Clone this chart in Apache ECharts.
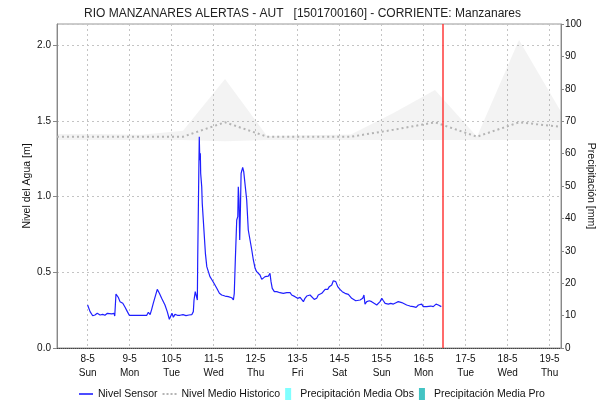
<!DOCTYPE html>
<html>
<head>
<meta charset="utf-8">
<script src="https://cdn.jsdelivr.net/npm/echarts@6/dist/echarts.min.js"></script>
<style>
  html, body { margin: 0; padding: 0; background: #fff; }
  #chart { width: 605px; height: 402px; }
</style>
</head>
<body>
<div id="chart"></div>
<script>
// Times are hours counted from 8 May 2022 00:00 (local time).
const BASE = new Date(2022, 4, 8, 0, 0, 0).getTime();
const HOUR = 3600 * 1000;

const windowStartHour = -17.5;   // 7-5 06:30
const windowEndHour = 270.5;     // 19-5 06:30
const nowHour = 202.7;           // vertical "now" marker

const dayNames = ['Sun', 'Mon', 'Tue', 'Wed', 'Thu', 'Fri', 'Sat'];

// Nivel Sensor [m]
const sensorHour = [
  0.0, 1.4, 2.9, 4.2, 5.5, 7.1, 8.6, 9.9, 11.3, 12.4, 13.8, 15.1, 15.5, 16.2, 17.5, 18.5, 20.1, 21.4, 22.7, 23.8,
  28.9, 33.8, 34.7, 35.7, 36.6, 37.5, 38.5, 39.8, 41.0, 42.3, 44.2, 45.5, 46.7, 47.5, 48.2, 49.0, 49.9, 51.3,
  52.8, 54.5, 56.2, 57.9, 59.5, 60.4, 60.8, 61.5, 62.3, 62.7, 62.9, 63.5, 63.8, 64.1, 64.4, 64.6, 65.2, 65.5,
  66.1, 66.7, 67.3, 68.1, 69.0, 69.9, 71.1, 72.2, 73.8, 75.3, 76.6, 78.5, 80.4, 82.3, 83.3, 83.8, 84.4, 85.2,
  85.8, 86.1, 86.5, 86.9, 87.3, 87.7, 88.1, 88.6, 89.2, 89.9, 90.9, 91.8, 92.8, 93.8, 94.7, 95.7, 96.6, 97.5,
  98.5, 99.5, 100.4, 101.4, 102.3, 103.3, 104.2, 104.8, 105.5, 106.7, 108.1, 109.9, 111.8, 112.8, 113.8, 114.7,
  115.7, 116.6, 117.5, 118.5, 120.0, 121.4, 122.3, 123.3, 124.2, 125.2, 126.1, 127.1, 128.1, 129.5, 130.9, 131.8,
  132.8, 133.8, 134.7, 135.7, 137.2, 138.1, 139.5, 140.4, 141.0, 141.8, 142.9, 144.2, 145.5, 147.1, 149.0, 149.9,
  150.9, 151.8, 153.2, 154.3, 155.7, 157.2, 157.9, 158.5, 159.5, 161.0, 162.3, 163.7, 165.2, 166.1, 167.1, 168.1,
  169.0, 170.0, 170.9, 171.8, 173.2, 174.7, 176.2, 177.5, 178.5, 179.5, 180.4, 182.3, 184.2, 186.1, 187.7, 189.0,
  190.0, 190.9, 191.8, 192.8, 193.8, 194.7, 196.1, 197.5, 199.1, 200.4, 201.4, 202.1
];
const sensorLevel = [
  0.284, 0.240, 0.213, 0.218, 0.229, 0.218, 0.222, 0.216, 0.229, 0.220, 0.225, 0.229, 0.211, 0.356, 0.335, 0.306, 0.295, 0.269, 0.240, 0.216,
  0.216, 0.216, 0.236, 0.220, 0.255, 0.295, 0.306, 0.387, 0.361, 0.328, 0.284, 0.240, 0.190, 0.196, 0.229, 0.203, 0.222, 0.216,
  0.216, 0.220, 0.214, 0.218, 0.220, 0.240, 0.317, 0.372, 0.361, 0.317, 0.580, 1.131, 1.395, 1.240, 1.285, 1.153, 1.065, 0.955,
  0.845, 0.735, 0.625, 0.537, 0.504, 0.471, 0.449, 0.427, 0.394, 0.361, 0.350, 0.343, 0.339, 0.332, 0.317, 0.361, 0.581, 0.845,
  0.867, 1.065, 0.977, 0.713, 0.911, 1.153, 1.170, 1.193, 1.164, 1.087, 0.977, 0.779, 0.713, 0.647, 0.581, 0.526, 0.504, 0.493,
  0.482, 0.453, 0.464, 0.471, 0.460, 0.475, 0.493, 0.438, 0.394, 0.372, 0.372, 0.365, 0.361, 0.365, 0.365, 0.358,
  0.365, 0.350, 0.339, 0.339, 0.328, 0.334, 0.321, 0.306, 0.328, 0.343, 0.354, 0.350, 0.339, 0.321, 0.328, 0.350,
  0.343, 0.361, 0.367, 0.387, 0.387, 0.405, 0.416, 0.444, 0.453, 0.438, 0.405, 0.387, 0.372, 0.361, 0.354, 0.343,
  0.328, 0.317, 0.312, 0.321, 0.317, 0.328, 0.350, 0.290, 0.306, 0.312, 0.306, 0.295, 0.284, 0.290, 0.306, 0.328,
  0.312, 0.295, 0.306, 0.290, 0.295, 0.290, 0.299, 0.306, 0.295, 0.300, 0.290, 0.284, 0.277, 0.273, 0.268, 0.284,
  0.277, 0.290, 0.273, 0.284, 0.273, 0.262, 0.277, 0.273, 0.290, 0.284, 0.277, 0.273
];

// Daily historic values, one per day starting at the window start
const historicHour = [-17.5, 6.5, 30.5, 54.5, 78.5, 102.5, 126.5, 150.5, 174.5, 198.5, 222.5, 246.5, 270.5];
const historicMean = [1.395, 1.395, 1.395, 1.395, 1.49, 1.395, 1.395, 1.395, 1.44, 1.49, 1.395, 1.49, 1.46];
const historicLow  = [1.373, 1.373, 1.373, 1.373, 1.365, 1.373, 1.373, 1.373, 1.373, 1.373, 1.373, 1.373, 1.373];
const historicHigh = [1.413, 1.413, 1.408, 1.435, 1.776, 1.400, 1.405, 1.410, 1.550, 1.703, 1.395, 2.033, 1.560];

// Precipitation [mm] (no values in this period)
const precipObs = [];
const precipPro = [];

const t = h => BASE + h * HOUR;
const pairs = (hours, vals) => hours.map((h, i) => [t(h), vals[i]]);

const font = 'Liberation Sans, Arial, sans-serif';
const gridLine = { show: true, lineStyle: { color: '#c4c4c4', type: [2, 3], width: 1 } };

const lineIcon = 'path://M0,0L14,0L14,1.6L0,1.6Z';
const dashIcon = 'path://M0,0h2v2h-2z M4,0h2v2h-2z M8,0h2v2h-2z M12,0h2v2h-2z';
const boxIcon = 'path://M0,0L6,0L6,12L0,12Z';

const chart = echarts.init(document.getElementById('chart'), null, { renderer: 'canvas' });
chart.setOption({
  animation: false,
  backgroundColor: '#fff',
  textStyle: { fontFamily: font },
  title: {
    text: 'RIO MANZANARES ALERTAS - AUT   [1501700160] - CORRIENTE: Manzanares',
    left: 'center',
    top: 3,
    textStyle: { fontSize: 12, fontWeight: 'normal', color: '#222', fontFamily: font }
  },
  grid: {
    left: 57, right: 44, top: 24, bottom: 54,
    outerBoundsMode: 'none',
    containLabel: false,
    show: true, borderColor: '#999', borderWidth: 1, backgroundColor: '#fff'
  },
  legend: {
    bottom: 2,
    left: 79,
    padding: 0,
    itemWidth: 14,
    itemHeight: 12,
    itemGap: 5,
    textStyle: { fontSize: 10.5, color: '#111', fontFamily: font },
    data: [
      { name: 'Nivel Sensor', icon: lineIcon },
      { name: 'Nivel Medio Historico', icon: dashIcon },
      { name: 'Precipitación Media Obs', icon: boxIcon },
      { name: 'Precipitación Media Pro', icon: boxIcon }
    ]
  },
  xAxis: {
    type: 'time',
    min: t(windowStartHour),
    max: t(windowEndHour),
    minInterval: 24 * HOUR,
    maxInterval: 24 * HOUR,
    axisLine: { show: true, lineStyle: { color: '#444', type: [1, 1], width: 1 } },
    axisTick: { show: false },
    splitLine: gridLine,
    axisLabel: {
      showMinLabel: false,
      showMaxLabel: false,
      fontSize: 10,
      color: '#111',
      lineHeight: 14,
      margin: 4,
      formatter: v => {
        const d = new Date(v);
        return d.getDate() + '-' + (d.getMonth() + 1) + '\n' + dayNames[d.getDay()];
      }
    }
  },
  yAxis: [
    {
      type: 'value',
      min: 0,
      max: 2.139,
      interval: 0.5,
      name: 'Nivel del Agua [m]',
      nameLocation: 'middle',
      nameGap: 24,
      nameMoveOverlap: false,
      nameTextStyle: { fontSize: 10.5, color: '#111' },
      axisLine: { show: true, lineStyle: { color: '#888' } },
      axisTick: { show: true, length: 4, lineStyle: { color: '#888' } },
      axisLabel: { showMaxLabel: false, fontSize: 10, color: '#111', margin: 6, formatter: v => v.toFixed(1) },
      splitLine: gridLine
    },
    {
      type: 'value',
      position: 'right',
      min: 0,
      max: 100,
      interval: 10,
      name: 'Precipitación [mm]',
      nameLocation: 'middle',
      nameRotate: -90,
      nameGap: 24,
      nameMoveOverlap: false,
      nameTextStyle: { fontSize: 10.5, color: '#111' },
      axisLine: { show: true, lineStyle: { color: '#888' } },
      axisTick: { show: true, length: 3, lineStyle: { color: '#888' } },
      axisLabel: { fontSize: 10, color: '#111', margin: 4 },
      splitLine: { show: false }
    }
  ],
  series: [
    {
      name: 'historicLow',
      type: 'line',
      stack: 'band',
      symbol: 'none',
      silent: true,
      lineStyle: { opacity: 0 },
      data: pairs(historicHour, historicLow),
      z: 1
    },
    {
      name: 'historicBand',
      type: 'line',
      stack: 'band',
      symbol: 'none',
      silent: true,
      lineStyle: { opacity: 0 },
      areaStyle: { color: 'rgba(120,120,120,0.12)' },
      data: pairs(historicHour, historicHigh.map((v, i) => v - historicLow[i])),
      z: 1
    },
    {
      name: 'Nivel Medio Historico',
      type: 'line',
      symbol: 'none',
      color: '#b4b4b4',
      lineStyle: { color: '#b4b4b4', width: 2, type: [2, 3] },
      data: pairs(historicHour, historicMean),
      z: 2
    },
    {
      name: 'Precipitación Media Obs',
      type: 'line',
      yAxisIndex: 1,
      symbol: 'none',
      color: '#80ffff',
      data: precipObs
    },
    {
      name: 'Precipitación Media Pro',
      type: 'line',
      yAxisIndex: 1,
      symbol: 'none',
      color: '#44c4c4',
      data: precipPro
    },
    {
      name: 'Nivel Sensor',
      type: 'line',
      symbol: 'none',
      color: '#1f1fff',
      lineStyle: { color: '#1f1fff', width: 1.2 },
      data: pairs(sensorHour, sensorLevel),
      z: 4,
      markLine: {
        silent: true,
        symbol: 'none',
        label: { show: false },
        lineStyle: { color: '#ff3a3a', width: 1.5, type: 'solid' },
        data: [{ xAxis: t(nowHour) }]
      }
    }
  ]
});
</script>
</body>
</html>
